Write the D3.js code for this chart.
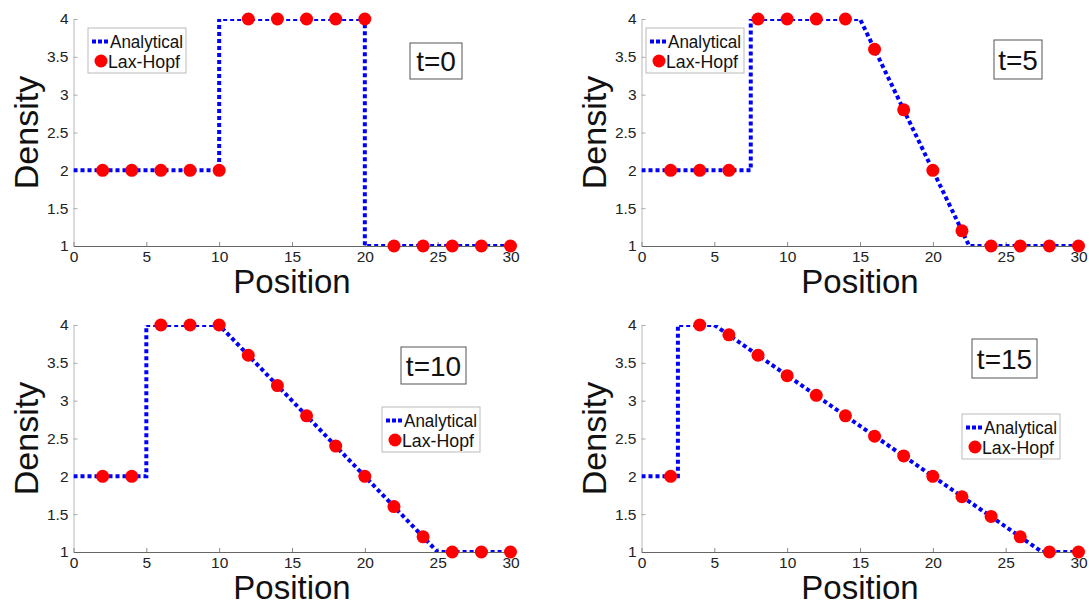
<!DOCTYPE html>
<html>
<head>
<meta charset="utf-8">
<script src="https://cdn.jsdelivr.net/npm/d3@7"></script>
<style>
  html, body { margin: 0; padding: 0; background: #fff; }
  svg { display: block; font-family: Arial, "Liberation Sans", sans-serif; }
</style>
</head>
<body>
<svg id="chart" width="1089" height="605"></svg>
<script>
// Traffic density snapshots: analytical solution vs. Lax-Hopf samples
const xTicks = [0, 5, 10, 15, 20, 25, 30];
const yTicks = [1, 1.5, 2, 2.5, 3, 3.5, 4];
const yTickLabels = ["1", "1.5", "2", "2.5", "3", "3.5", "4"];
const times = ["t=0", "t=5", "t=10", "t=15"];

// Analytical profiles (breakpoints of the piecewise-linear density)
const analyticalX0  = [0, 10, 10, 20, 20, 30];
const analyticalY0  = [2, 2, 4, 4, 1, 1];
const analyticalX5  = [0, 7.5, 7.5, 15, 22.5, 30];
const analyticalY5  = [2, 2, 4, 4, 1, 1];
const analyticalX10 = [0, 5, 5, 10, 25, 30];
const analyticalY10 = [2, 2, 4, 4, 1, 1];
const analyticalX15 = [0, 2.5, 2.5, 5, 27.5, 30];
const analyticalY15 = [2, 2, 4, 4, 1, 1];

// Lax-Hopf samples on the even grid points
const gridX = [2, 4, 6, 8, 10, 12, 14, 16, 18, 20, 22, 24, 26, 28, 30];
const laxHopf0  = [2, 2, 2, 2, 2, 4, 4, 4, 4, 4, 1, 1, 1, 1, 1];
const laxHopf5  = [2, 2, 2, 4, 4, 4, 4, 3.6, 2.8, 2.0, 1.2, 1, 1, 1, 1];
const laxHopf10 = [2, 2, 4, 4, 4, 3.6, 3.2, 2.8, 2.4, 2.0, 1.6, 1.2, 1, 1, 1];
const laxHopf15 = [2, 4, 3.87, 3.6, 3.33, 3.07, 2.8, 2.53, 2.27, 2.0, 1.73, 1.47, 1.2, 1, 1];

const analyticalX = [analyticalX0, analyticalX5, analyticalX10, analyticalX15];
const analyticalY = [analyticalY0, analyticalY5, analyticalY10, analyticalY15];
const laxHopf = [laxHopf0, laxHopf5, laxHopf10, laxHopf15];

// Panel placement and annotation boxes
const panels = [
  { left: 73.5,  top: 19,  legend: [88, 28],   tbox: [410, 43, 52, 36] },
  { left: 641.5, top: 19,  legend: [646, 28],  tbox: [994, 40, 48, 39] },
  { left: 73.5,  top: 325, legend: [382, 407], tbox: [401, 347, 65, 37] },
  { left: 641.5, top: 325, legend: [962, 414], tbox: [972, 339, 65, 39] }
];
const plotW = 437, plotH = 227;

const svg = d3.select("#chart");
const defs = svg.append("defs");

panels.forEach((p, i) => {
  const x = d3.scaleLinear().domain([0, 30]).range([0, plotW]);
  const y = d3.scaleLinear().domain([1, 4]).range([plotH, 0]);
  const g = svg.append("g").attr("transform", `translate(${p.left},${p.top})`);

  defs.append("clipPath").attr("id", "clip" + i)
    .append("rect").attr("x", 0).attr("y", 0).attr("width", plotW).attr("height", plotH);

  // y axis (ticks inside)
  const yAxis = g.append("g").call(
    d3.axisLeft(y).tickValues(yTicks).tickFormat((d, k) => yTickLabels[k])
      .tickSizeInner(-4).tickSizeOuter(0).tickPadding(5)
  );
  yAxis.select(".domain").attr("stroke", "#b8b8b8");
  yAxis.selectAll(".tick line").attr("stroke", "#aaa");
  yAxis.selectAll("text").attr("font-size", 15.5).attr("fill", "#222")
    .attr("font-family", "Arial, 'Liberation Sans', sans-serif");

  // x axis (ticks inside)
  const xAxis = g.append("g").attr("transform", `translate(0,${plotH})`).call(
    d3.axisBottom(x).tickValues(xTicks).tickFormat(d3.format("d"))
      .tickSizeInner(-4).tickSizeOuter(0).tickPadding(5)
  );
  xAxis.select(".domain").attr("stroke", "#666");
  xAxis.selectAll(".tick line").attr("stroke", "#888");
  xAxis.selectAll("text").attr("font-size", 15.5).attr("fill", "#222")
    .attr("font-family", "Arial, 'Liberation Sans', sans-serif");

  // axis titles
  g.append("text")
    .attr("transform", `translate(-36,${plotH / 2}) rotate(-90)`)
    .attr("text-anchor", "middle")
    .attr("font-size", 34).attr("fill", "#111")
    .text("Density");
  g.append("text")
    .attr("x", plotW / 2).attr("y", plotH + 47)
    .attr("text-anchor", "middle")
    .attr("font-size", 33).attr("fill", "#111")
    .text("Position");

  // analytical profile
  const pts = analyticalX[i].map((v, k) => [v, analyticalY[i][k]]);
  g.append("path")
    .attr("clip-path", `url(#clip${i})`)
    .attr("d", d3.line().x(d => x(d[0])).y(d => y(d[1]))(pts))
    .attr("fill", "none")
    .attr("stroke", "#0000ff")
    .attr("stroke-width", 4)
    .attr("stroke-dasharray", "4,3");

  // Lax-Hopf samples
  g.selectAll("circle.lh").data(gridX).enter().append("circle")
    .attr("class", "lh")
    .attr("cx", d => x(d))
    .attr("cy", (d, k) => y(laxHopf[i][k]))
    .attr("r", 6.5)
    .attr("fill", "#ff0000");

  // legend
  const [lx, ly] = p.legend;
  const lg = svg.append("g").attr("transform", `translate(${lx},${ly})`);
  lg.append("rect").attr("x", 0).attr("y", 0).attr("width", 98).attr("height", 45)
    .attr("fill", "#fff").attr("stroke", "#bbb").attr("stroke-width", 1);
  lg.append("line").attr("x1", 4).attr("x2", 21).attr("y1", 13.5).attr("y2", 13.5)
    .attr("stroke", "#0000ff").attr("stroke-width", 4).attr("stroke-dasharray", "4,2");
  lg.append("text").attr("x", 22).attr("y", 19.5).attr("font-size", 17.5)
    .attr("textLength", 73).attr("lengthAdjust", "spacingAndGlyphs")
    .attr("fill", "#111").text("Analytical");
  lg.append("circle").attr("cx", 13).attr("cy", 33).attr("r", 6.5).attr("fill", "#ff0000");
  lg.append("text").attr("x", 20).attr("y", 40).attr("font-size", 17.5)
    .attr("textLength", 72).attr("lengthAdjust", "spacingAndGlyphs")
    .attr("fill", "#111").text("Lax-Hopf");

  // time annotation
  const [tx, ty, tw, th] = p.tbox;
  const tg = svg.append("g").attr("transform", `translate(${tx},${ty})`);
  tg.append("rect").attr("width", tw).attr("height", th)
    .attr("fill", "#fff").attr("stroke", "#555").attr("stroke-width", 1);
  tg.append("text").attr("x", tw / 2).attr("y", th / 2 + 10)
    .attr("text-anchor", "middle").attr("font-size", 28).attr("fill", "#111")
    .text(times[i]);
});
</script>
</body>
</html>
